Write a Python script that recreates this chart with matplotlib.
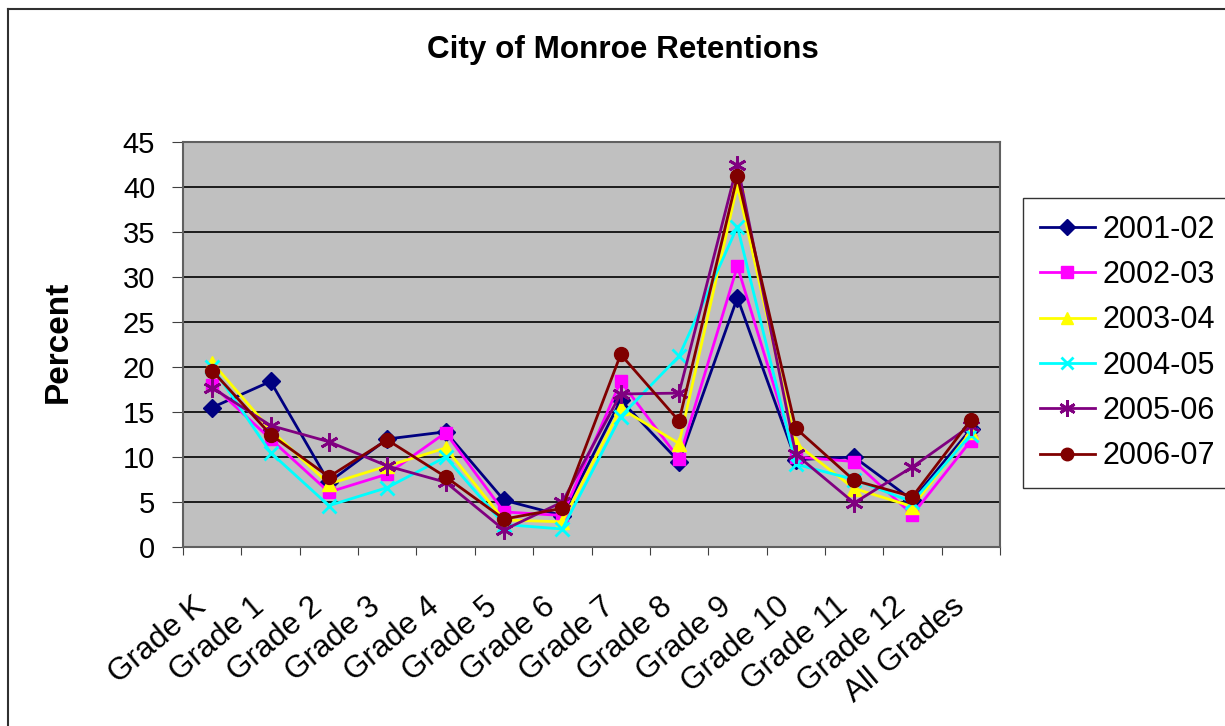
import numpy as np
import matplotlib
matplotlib.use("Agg")
import matplotlib.pyplot as plt
from matplotlib.lines import Line2D
from matplotlib.transforms import ScaledTranslation

plt.rcParams['font.family'] = ['Liberation Sans', 'DejaVu Sans']

grades = ["Grade K", "Grade 1", "Grade 2", "Grade 3", "Grade 4", "Grade 5", "Grade 6",
          "Grade 7", "Grade 8", "Grade 9", "Grade 10", "Grade 11", "Grade 12", "All Grades"]

y2001 = [15.5, 18.4, 7.2, 12.0, 12.8, 5.2, 3.5, 16.3, 9.5, 27.7, 9.7, 10.0, 5.2, 13.1]
y2002 = [18.0, 12.0, 6.1, 8.1, 12.7, 3.9, 3.5, 18.4, 9.8, 31.2, 10.0, 9.5, 3.6, 11.8]
y2003 = [20.5, 13.0, 7.0, 9.0, 11.0, 3.0, 2.8, 15.4, 11.5, 40.2, 11.5, 6.5, 4.5, 12.8]
y2004 = [20.0, 10.5, 4.6, 6.6, 10.0, 2.5, 2.0, 14.5, 21.2, 35.6, 9.2, 7.5, 5.0, 12.5]
y2005 = [17.7, 13.5, 11.7, 9.0, 7.2, 1.9, 5.0, 17.0, 17.1, 42.5, 10.3, 4.9, 8.9, 13.5]
y2006 = [19.6, 12.5, 7.8, 11.9, 7.8, 3.1, 4.3, 21.4, 14.0, 41.2, 13.2, 7.4, 5.6, 14.1]

series = [("2001-02", y2001, "#000080", "D", 9),
          ("2002-03", y2002, "#FF00FF", "s", 9),
          ("2003-04", y2003, "#FFFF00", "^", 10),
          ("2004-05", y2004, "#00FFFF", "x", 10),
          ("2005-06", y2005, "#800080", (6, 2, 0), 13),
          ("2006-07", y2006, "#800000", "o", 10)]

fig = plt.figure(figsize=(12.25, 7.26), dpi=100)
ax = fig.add_axes([183/1225, 1-547/726, 817/1225, 405/726])
ax.set_facecolor("#C0C0C0")

x = np.arange(len(grades)) + 0.5
handles = []
for name, vals, col, mk, ms in series:
    mw = 2 if mk in ("x", (6, 2, 0)) else 1
    ax.plot(x, vals, color=col, lw=2, marker=mk, ms=ms, mew=mw, mec=col, mfc=col, label=name)
    handles.append(Line2D([], [], color=col, lw=2, marker=mk, ms=ms*0.9, mew=mw, mec=col, mfc=col))

ax.set_xlim(0, len(grades))
ax.set_ylim(0, 45)
ax.set_yticks(range(0, 50, 5))
ax.yaxis.grid(True, color="black", lw=1.2)
ax.set_axisbelow(True)
ax.set_xticks(np.arange(len(grades) + 1))
ax.set_xticklabels([])
ax.set_xticks(x, minor=True)
ax.set_xticklabels(grades, minor=True, rotation=40, ha="right", va="top",
                   rotation_mode="anchor", fontsize=22.5)
ax.tick_params(axis="x", which="minor", length=0, pad=29)
ax.tick_params(axis="x", which="major", length=6, direction="out", color="#404040")
ax.tick_params(axis="y", length=8, direction="out", labelsize=21, color="#404040", pad=12)
shift = ScaledTranslation(-20/100, -4/100, fig.dpi_scale_trans)
for lab in ax.get_xticklabels(minor=True):
    lab.set_transform(lab.get_transform() + shift)
for s in ax.spines.values():
    s.set_color("#606060")
    s.set_linewidth(1.5)

fig.text(58/1225, 1-342/726, "Percent", fontsize=24, fontweight="bold", rotation=90,
         ha="center", va="center")
fig.text(623/1225, 1-50/726, "City of Monroe Retentions", fontsize=22.6, fontweight="bold",
         ha="center", va="center")

leg = fig.legend(handles, [s[0] for s in series], loc="upper left",
                 bbox_to_anchor=(1023/1225, 1-198/726), borderaxespad=0, fontsize=22,
                 frameon=True, fancybox=False, edgecolor="black", handlelength=1.8,
                 labelspacing=0.5, borderpad=0.55, handletextpad=0.26)
leg.get_frame().set_linewidth(1)

# chart border
fig.add_artist(Line2D([8/1225, 8/1225], [0, 1-9/726], color="#303030", lw=1.5, transform=fig.transFigure))
fig.add_artist(Line2D([8/1225, 1], [1-9/726, 1-9/726], color="#303030", lw=1.5, transform=fig.transFigure))

fig.savefig("out.png", dpi=100)
